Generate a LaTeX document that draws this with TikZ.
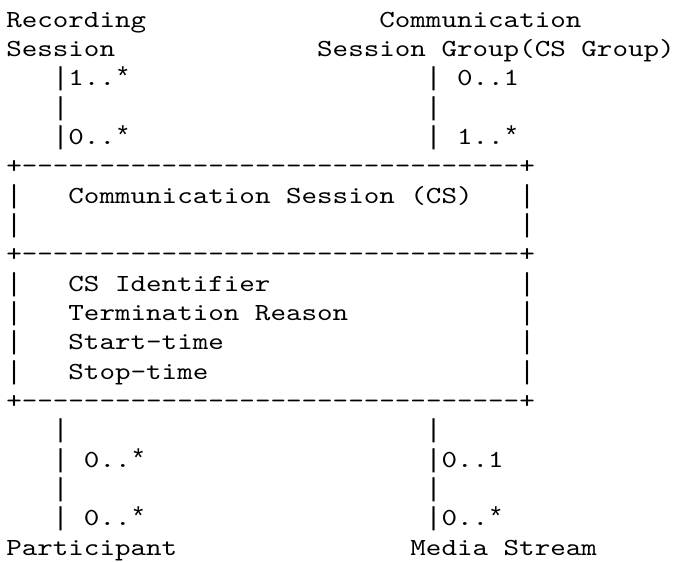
\documentclass[tikz,border=0pt]{standalone}
\usepackage{fontspec}
\setmonofont[FakeStretch=1.207]{lmmono10-regular.otf}
\newfontfamily\symfont{Liberation Mono}
\usepackage{tikz}

% bar and star at the same advance as the text
\newcommand\vl{{\symfont\fontsize{19.43}{22}\selectfont|}}
\newcommand\mult{{\symfont\fontsize{19.43}{22}\selectfont*}}

\begin{document}
\begin{tikzpicture}[
    x=11.659pt, y=-22pt,
    asc/.style={font=\ttfamily\fontsize{18.4}{22}\selectfont,
      inner sep=0pt, anchor=base west}
  ]
    \useasboundingbox (-4.5pt,20.25pt) rectangle (501.75pt,-400.5pt);
    % upper ends
    \node[asc] (rs1)  at (0,0)  {Recording};
    \node[asc] (rs2)  at (0,1)  {Session};
    \node[asc] (csg1) at (24,0) {Communication};
    \node[asc] (csg2) at (20,1) {Session Group(CS Group)};
    \node[asc] (l1) at (3,2)  {\vl1..\mult};
    \node[asc] (l2) at (3,3)  {\vl};
    \node[asc] (l3) at (3,4)  {\vl0..\mult};
    \node[asc] (r1) at (27,2) {\vl{} 0..1};
    \node[asc] (r2) at (27,3) {\vl};
    \node[asc] (r3) at (27,4) {\vl{} 1..\mult};
    % CS box
    \node[asc] (top) at (0,5)  {+--------------------------------+};
    \node[asc] (mid) at (0,8)  {+--------------------------------+};
    \node[asc] (bot) at (0,13) {+--------------------------------+};
    \foreach \r in {6,7,9,10,11,12} {
      \node[asc] (wl\r) at (0,\r)  {\vl};
      \node[asc] (wr\r) at (33,\r) {\vl};
    }
    \node[asc] (cs)   at (4,6)  {Communication Session (CS)};
    \node[asc] (id)   at (4,9)  {CS Identifier};
    \node[asc] (term) at (4,10) {Termination Reason};
    \node[asc] (start) at (4,11) {Start-time};
    \node[asc] (stop) at (4,12) {Stop-time};
    % lower ends
    \node[asc] (pl1) at (3,14) {\vl};
    \node[asc] (pl2) at (3,15) {\vl{} 0..\mult};
    \node[asc] (pl3) at (3,16) {\vl};
    \node[asc] (pl4) at (3,17) {\vl{} 0..\mult};
    \node[asc] (ml1) at (27,14) {\vl};
    \node[asc] (ml2) at (27,15) {\vl0..1};
    \node[asc] (ml3) at (27,16) {\vl};
    \node[asc] (ml4) at (27,17) {\vl0..\mult};
    \node[asc] (part) at (0,18)  {Participant};
    \node[asc] (ms)   at (26,18) {Media Stream};
  \end{tikzpicture}
\end{document}
